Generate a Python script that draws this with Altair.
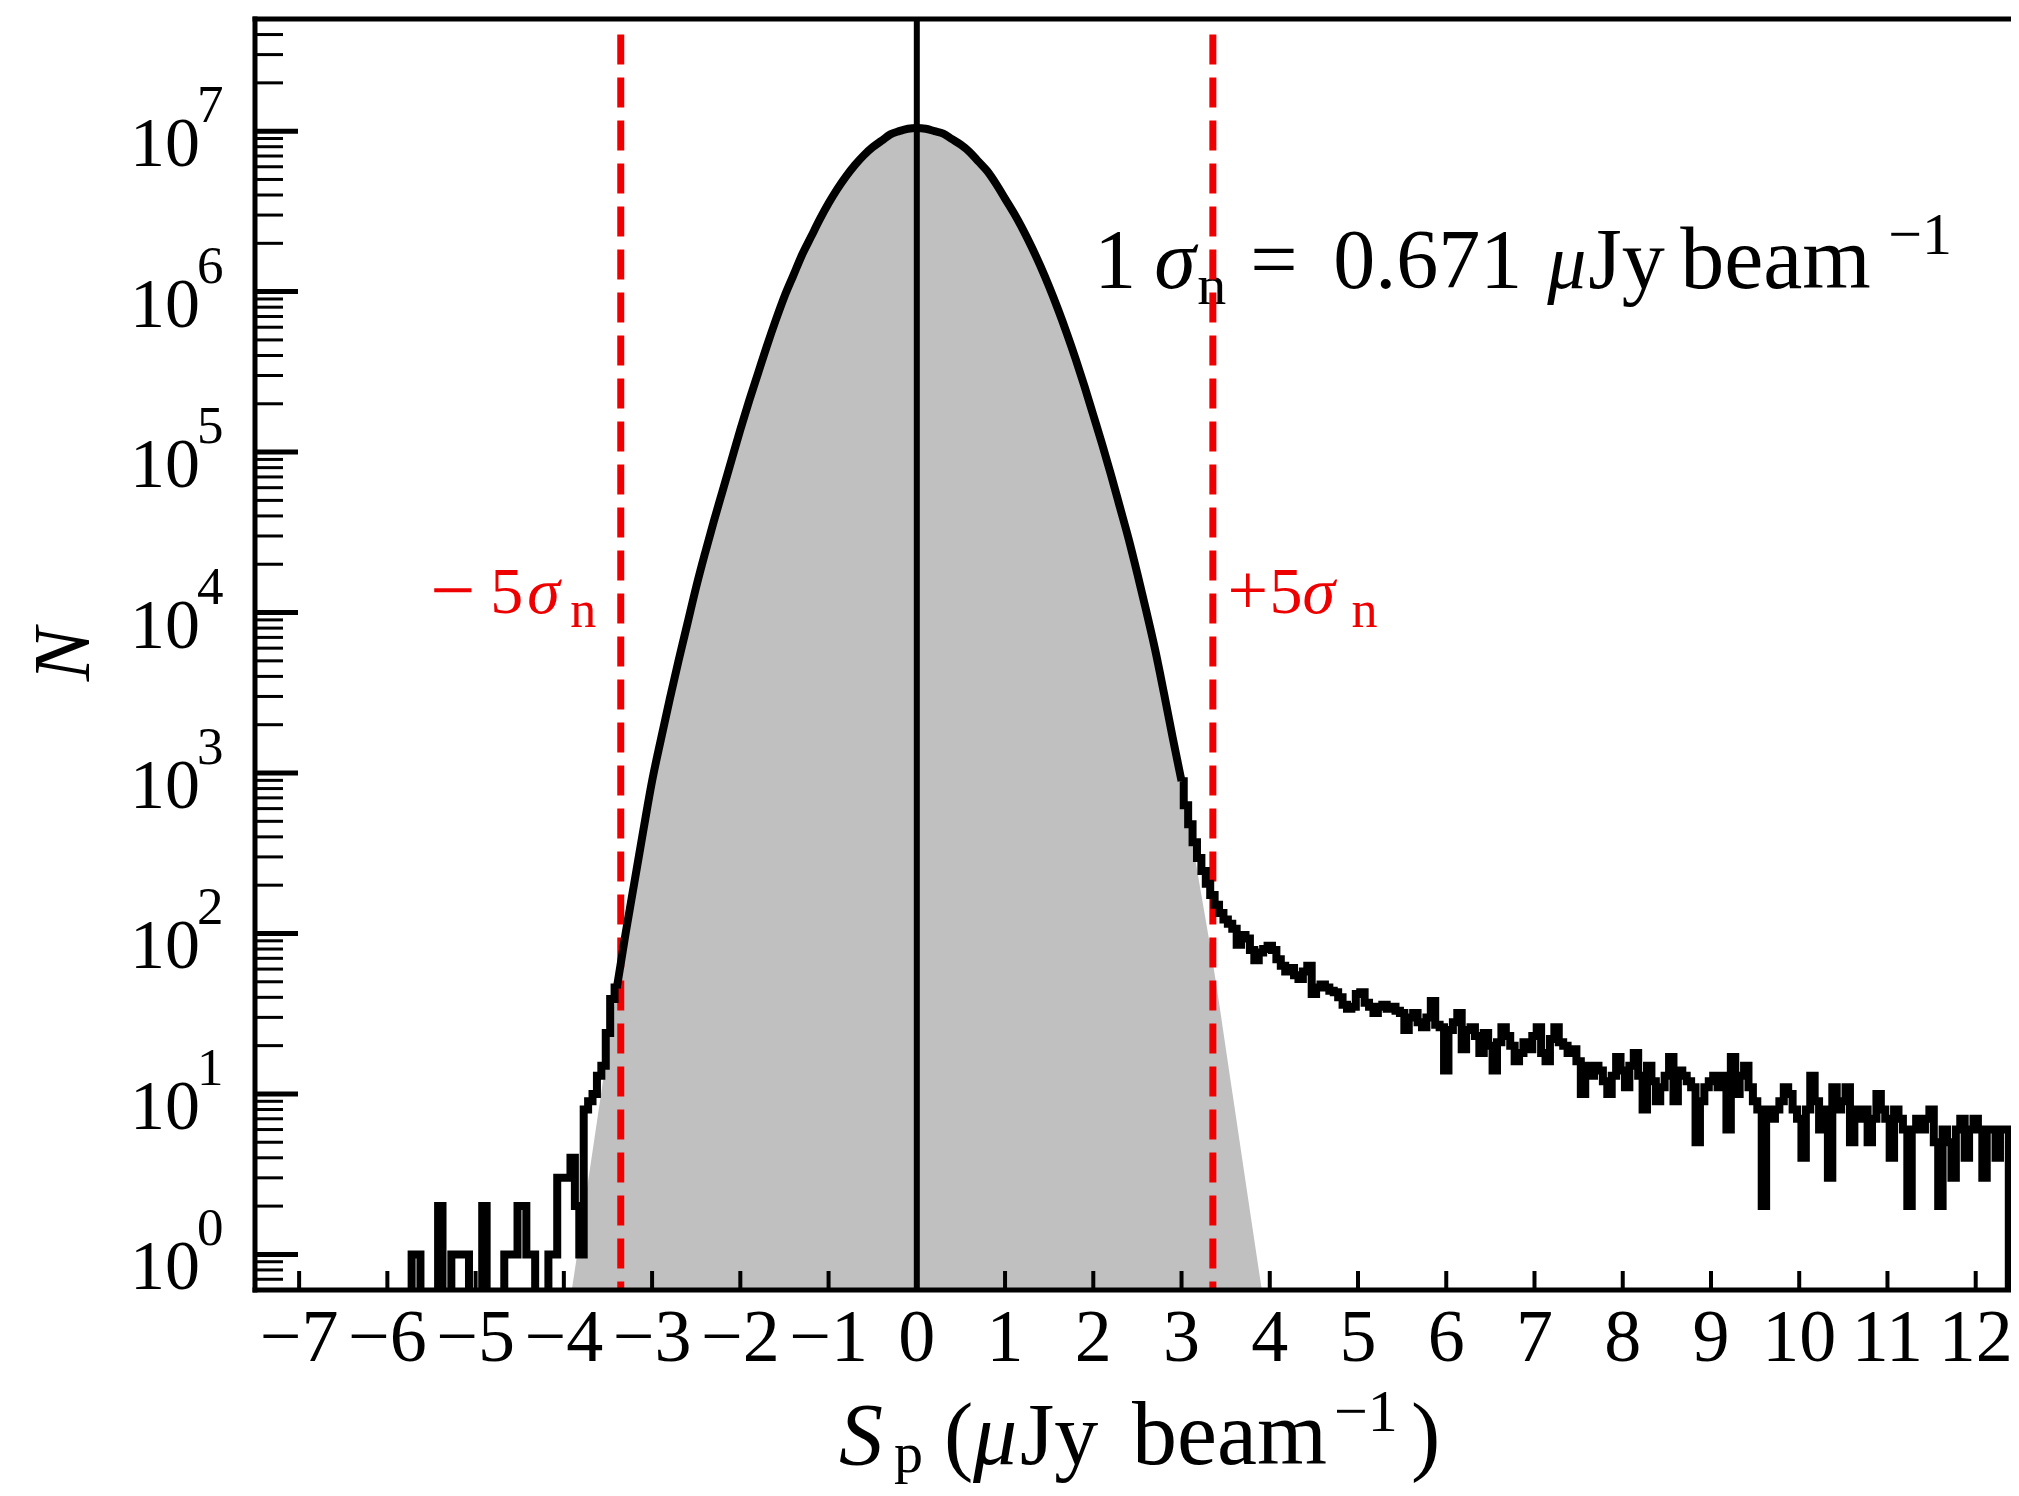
import altair as alt
import pandas as pd

# ---------------- values ----------------
# smooth noise profile, log10(N), shared by the grey model and the histogram core
smooth_x = [-4.0, -3.8, -3.6, -3.5,
            -3.4, -3.3, -3.2, -3.1, -3.0, -2.9, -2.8, -2.7, -2.6, -2.5,
            -2.4, -2.3, -2.2, -2.1, -2.0, -1.9, -1.8, -1.7, -1.6, -1.5,
            -1.4, -1.3, -1.2, -1.1, -1.0, -0.9, -0.8, -0.7, -0.6, -0.5,
            -0.4, -0.3, -0.2, -0.1, 0.0, 0.1, 0.2, 0.3, 0.4, 0.5,
            0.6, 0.7, 0.8, 0.9, 1.0, 1.1, 1.2, 1.3, 1.4, 1.5,
            1.6, 1.7, 1.8, 1.9, 2.0, 2.1, 2.2, 2.3, 2.4, 2.5,
            2.6, 2.7, 2.8, 2.9, 3.0, 3.1, 3.2, 3.3, 3.4,
            3.5, 3.6, 3.8, 4.0]
smooth_log = [-0.55, 0.18, 0.92, 1.29,
              1.66, 2.00, 2.32, 2.64, 2.95, 3.21, 3.46, 3.70, 3.93, 4.16,
              4.37, 4.57, 4.76, 4.95, 5.14, 5.32, 5.49, 5.66, 5.82, 5.97,
              6.10, 6.23, 6.34, 6.45, 6.55, 6.64, 6.72, 6.79, 6.85, 6.90,
              6.94, 6.98, 7.00, 7.015, 7.02, 7.015, 7.00, 6.985, 6.95, 6.915,
              6.87, 6.81, 6.75, 6.67, 6.58, 6.49, 6.39, 6.28, 6.16, 6.03,
              5.89, 5.74, 5.58, 5.41, 5.23, 5.05, 4.86, 4.66, 4.46, 4.24,
              4.01, 3.77, 3.50, 3.22, 2.95, 2.64, 2.32, 2.00, 1.66,
              1.29, 0.92, 0.18, -0.55]
core_range = [-3.4, 3.0]

bin_w = 0.05
# negative tail, bin centres from -5.75
left_start = -5.75
left_counts = [0, 1, 1, 0, 0, 0, 0, 2, 0, 0, 1, 1, 1, 1, 0, 0, 0, 2, 0, 0,
               0, 0, 1, 1, 1, 2, 2, 1, 1, 0, 0, 0, 1, 1, 3, 3, 3, 4, 2, 1,
               8, 9, 10, 13, 15, 24, 39, 46]
# positive tail, bin centres from 3.00
right_start = 3.00
right_counts = [890, 630, 480, 370, 295, 245, 204, 174, 151, 134, 122, 115, 107, 85, 98, 93, 79, 68, 76, 80,
                84, 79, 69, 63, 58, 61, 55, 52, 58, 63, 42, 46, 48, 46, 44, 43, 40, 36, 34, 35,
                42, 43, 37, 35, 32, 35, 36, 34, 35, 33, 32, 25, 30, 32, 28, 26, 30, 38, 27, 26,
                14, 25, 28, 32, 19, 25, 26, 23, 18, 24, 20, 14, 21, 26, 23, 20, 16, 18, 21, 19,
                23, 26, 18, 16, 22, 26, 21, 20, 18, 19, 16, 10, 15, 13, 15, 14, 12, 10, 13, 17,
                14, 11, 15, 18, 13, 8, 15, 12, 9, 11, 13, 17, 9, 14, 13, 12, 11, 5, 9, 11,
                12, 13, 11, 13, 6, 17, 10, 13, 15, 11, 9, 8, 2, 8, 7, 8, 9, 11, 10, 8,
                7, 4, 8, 13, 9, 6, 8, 3, 11, 8, 9, 11, 5, 8, 7, 8, 5, 7, 10, 8,
                7, 4, 8, 7, 6, 2, 6, 7, 6, 7, 8, 5, 2, 6, 5, 3, 6, 7, 4, 6,
                7, 6, 3, 6, 6, 4, 6, 6, 0]

sigma_n = 0.671
sigma_lines = [-5 * sigma_n, 5 * sigma_n]
sigma_line_top = 4.0e7
x_ticks = list(range(-7, 13))
x_tick_labels = [("−" + str(-t)) if t < 0 else str(t) for t in x_ticks]
y_major = [1, 10, 100, 1e3, 1e4, 1e5, 1e6, 1e7]
y_exponents = ["0", "1", "2", "3", "4", "5", "6", "7"]
y_minor = [0.7, 0.8, 0.9] + [m * 10 ** k for k in range(0, 7) for m in range(2, 10)] + [2e7, 3e7, 4e7]

# text anchors (data coordinates)
note_anchor = (2.01, 1.05e6)
minus_anchor = (-5.49, 1.0e4)
plus_anchor = (3.52, 1.0e4)

# ---------------- layout / style ----------------
W, H = 1756, 1271
FONT = "Liberation Serif"
RED = "#ee0000"
ZERO = 0.2
BASE = 0.3

xs = alt.Scale(domain=[-7.5, 12.40], nice=False, zero=False)
ys = alt.Scale(type="log", domain=[0.6, 5e7], nice=False)

smooth = pd.DataFrame({"x": smooth_x, "n": [10 ** v for v in smooth_log], "b": [BASE] * len(smooth_x)})
core = smooth[(smooth.x >= core_range[0]) & (smooth.x <= core_range[1])]
left = pd.DataFrame({"x": [round(left_start + i * bin_w, 3) for i in range(len(left_counts))],
                     "n": [max(c, ZERO) for c in left_counts]})
right = pd.DataFrame({"x": [round(right_start + i * bin_w, 3) for i in range(len(right_counts))],
                      "n": [max(c, ZERO) for c in right_counts]})

X = lambda f="x": alt.X(f"{f}:Q", scale=xs, axis=None)
Y = lambda f="n": alt.Y(f"{f}:Q", scale=ys, axis=None)

grey = alt.Chart(smooth).mark_area(color="#c0c0c0", interpolate="monotone", clip=True,
                                   orient="vertical").encode(x=X(), y=Y(), y2="b:Q")

zero_line = alt.Chart(pd.DataFrame({"x": [0.0]})).mark_rule(color="black", strokeWidth=6).encode(
    x=X(), y=alt.value(0), y2=alt.value(H))


def piece(anchor, text, dx, dy, size, style="normal", color="black"):
    df = pd.DataFrame({"x": [anchor[0]], "n": [anchor[1]]})
    return alt.Chart(df).mark_text(text=text, dx=dx, dy=dy, fontSize=size, fontStyle=style, font=FONT,
                                   align="left", baseline="alphabetic", color=color).encode(x=X(), y=Y())


def ppiece(px, py, text, size, style="normal", color="black", angle=0, align="left"):
    df = pd.DataFrame({"k": [0]})
    return alt.Chart(df).mark_text(text=text, fontSize=size, fontStyle=style, font=FONT, angle=angle,
                                   align=align, baseline="alphabetic", color=color).encode(
        x=alt.value(px), y=alt.value(py))


note = [
    piece(note_anchor, "1", 0, 0, 84),
    piece(note_anchor, "σ", 60, 0, 84, "italic"),
    piece(note_anchor, "n", 103, 16, 58),
    piece(note_anchor, "=", 156, 0, 84),
    piece(note_anchor, "0.671", 239, 0, 84),
    piece(note_anchor, "μ", 453, 0, 78, "italic"),
    piece(note_anchor, "Jy", 494, 0, 86),
    piece(note_anchor, "beam", 586, 0, 88),
    piece(note_anchor, "−1", 794, -34, 60),
]

red_lines = alt.Chart(pd.DataFrame({"x": sigma_lines, "top": [sigma_line_top] * 2, "bot": [0.6] * 2})).mark_rule(
    color=RED, strokeWidth=7, strokeDash=[30, 13]).encode(x=X(), y=Y("top"), y2="bot:Q")

red_labels = [
    piece(minus_anchor, "−", -2, 4, 80, color=RED),
    piece(minus_anchor, "5", 58, 0, 66, color=RED),
    piece(minus_anchor, "σ", 95, 0, 66, "italic", RED),
    piece(minus_anchor, "n", 138, 14, 52, color=RED),
    piece(plus_anchor, "+", 0, 1, 72, color=RED),
    piece(plus_anchor, "5", 42, 0, 66, color=RED),
    piece(plus_anchor, "σ", 75, 0, 66, "italic", RED),
    piece(plus_anchor, "n", 124, 14, 52, color=RED),
]

hist_left = alt.Chart(left).mark_line(color="black", strokeWidth=8, interpolate="step", clip=True).encode(
    x=X(), y=Y())
hist_core = alt.Chart(core).mark_line(color="black", strokeWidth=8, interpolate="monotone", clip=True).encode(
    x=X(), y=Y())
hist_right = alt.Chart(right).mark_line(color="black", strokeWidth=8, interpolate="step", clip=True).encode(
    x=X(), y=Y())

one = pd.DataFrame({"k": [0]})
spines = [
    alt.Chart(one).mark_rule(color="black", strokeWidth=5, strokeCap="square").encode(
        x=alt.value(0), y=alt.value(0), y2=alt.value(H)),
    alt.Chart(one).mark_rule(color="black", strokeWidth=5, strokeCap="square").encode(
        x=alt.value(0), x2=alt.value(W), y=alt.value(H)),
    alt.Chart(one).mark_rule(color="black", strokeWidth=5, strokeCap="square").encode(
        x=alt.value(0), x2=alt.value(W), y=alt.value(0)),
]

ticks = [
    alt.Chart(pd.DataFrame({"n": y_major})).mark_rule(color="black", strokeWidth=5).encode(
        x=alt.value(0), x2=alt.value(43), y=Y()),
    alt.Chart(pd.DataFrame({"n": y_minor})).mark_rule(color="black", strokeWidth=3).encode(
        x=alt.value(0), x2=alt.value(28), y=Y()),
    alt.Chart(pd.DataFrame({"x": x_ticks})).mark_rule(color="black", strokeWidth=4).encode(
        x=X(), y=alt.value(H), y2=alt.value(H - 19)),
]

# tick labels drawn as text through the scales
x_labels = alt.Chart(pd.DataFrame({"x": x_ticks, "t": x_tick_labels})).mark_text(
    font=FONT, fontSize=74, align="center", baseline="alphabetic", color="black").encode(
    x=X(), y=alt.value(H + 71), text="t:N")
y_labels = alt.Chart(pd.DataFrame({"n": y_major, "t": ["10"] * len(y_major)})).mark_text(
    font=FONT, fontSize=70, align="right", baseline="alphabetic", dy=35, color="black").encode(
    x=alt.value(-55), y=Y(), text="t:N")
exps = alt.Chart(pd.DataFrame({"n": y_major, "e": y_exponents})).mark_text(
    font=FONT, fontSize=53, align="left", baseline="alphabetic", dy=-9, color="black").encode(
    x=alt.value(-58), y=Y(), text="e:N")

y_title = ppiece(-166, H / 2, "N", 80, "italic", angle=270, align="center")

ty = 1445
xtitle = [
    ppiece(584, ty, "S", 88, "italic"),
    ppiece(639, ty + 8, "p", 58),
    ppiece(689, ty, "(", 88),
    ppiece(718, ty, "μ", 88, "italic"),
    ppiece(765, ty, "Jy", 88),
    ppiece(877, ty, "beam", 90),
    ppiece(1079, ty - 33, "−1", 60),
    ppiece(1156, ty, ")", 88),
]

chart = alt.layer(grey, zero_line, *note, red_lines, *red_labels, hist_left, hist_core, hist_right,
                  *spines, *ticks, x_labels, y_labels, exps, y_title, *xtitle).properties(
    width=W, height=H,
    padding={"left": 247, "top": 11, "right": 0, "bottom": 197},
    autosize=alt.AutoSizeParams(type="none"),
    background="white",
).configure_view(strokeWidth=0)

chart.save("out.html", embed_options={"renderer": "svg", "actions": False})
